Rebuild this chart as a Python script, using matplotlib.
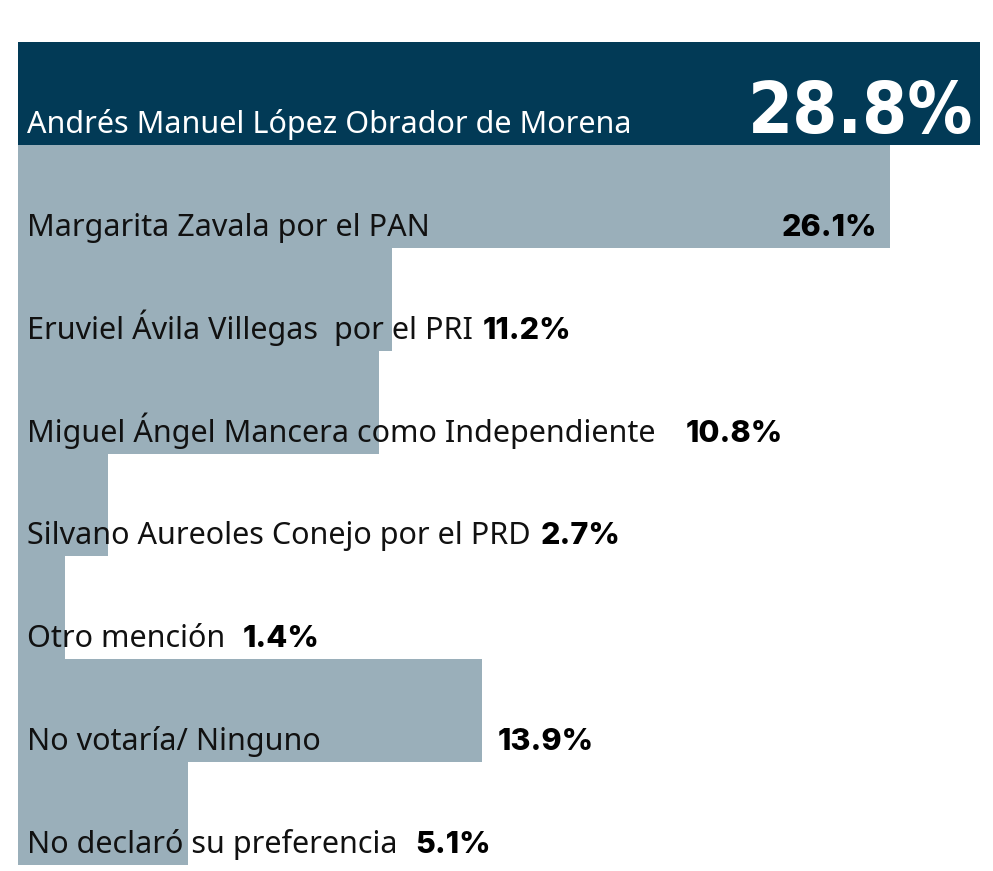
import matplotlib
matplotlib.use("Agg")
import matplotlib.pyplot as plt

# Data
labels = [
    "Andrés Manuel López Obrador de Morena",
    "Margarita Zavala por el PAN",
    "Eruviel Ávila Villegas  por el PRI",
    "Miguel Ángel Mancera como Independiente",
    "Silvano Aureoles Conejo por el PRD",
    "Otro mención",
    "No votaría/ Ninguno",
    "No declaró su preferencia",
]
values = [28.8, 26.1, 11.2, 10.8, 2.7, 1.4, 13.9, 5.1]
value_labels = ["28.8%", "26.1%", "11.2%", "10.8%", "2.7%", "1.4%", "13.9%", "5.1%"]

# Layout (value-label anchors in data units, and alignment)
value_x = [28.6, 25.72, 13.91, 19.99, 15.66, 6.74, 14.36, 11.9]
value_ha = ["right", "right", "left", "left", "left", "left", "left", "left"]

DARK = "#023a56"
GRAY = "#9aafba"

fig = plt.figure(figsize=(9.93, 8.71), dpi=100)
ax = fig.add_axes([18 / 993, 1 - 865 / 871, 962 / 993, 823 / 871])

colors = [DARK] + [GRAY] * (len(values) - 1)
ypos = list(range(len(values)))
ax.barh(ypos, values, height=1.0, color=colors, edgecolor="none")

ax.set_xlim(0, 28.8)
ax.set_ylim(len(values) - 0.5, -0.5)
ax.axis("off")

base_off = 0.5 - 12 / 103
for i, (lab, vl) in enumerate(zip(labels, value_labels)):
    y = i + base_off
    ax.text(0.27, y, lab, ha="left", va="baseline",
            fontsize=22, family=["Noto Sans", "DejaVu Sans"],
            color="white" if i == 0 else "#111111")
    if i == 0:
        ax.text(value_x[i], y, vl, ha=value_ha[i], va="baseline",
                fontsize=52, color="white",
                family=["DejaVu Sans"],
                fontweight="bold", fontstretch="condensed")
    else:
        ax.text(value_x[i], y, vl, ha=value_ha[i], va="baseline",
                fontsize=22, color="#000000",
                family=["Inter", "DejaVu Sans"], fontweight="heavy")

fig.savefig("out.png", dpi=100, facecolor="white")
